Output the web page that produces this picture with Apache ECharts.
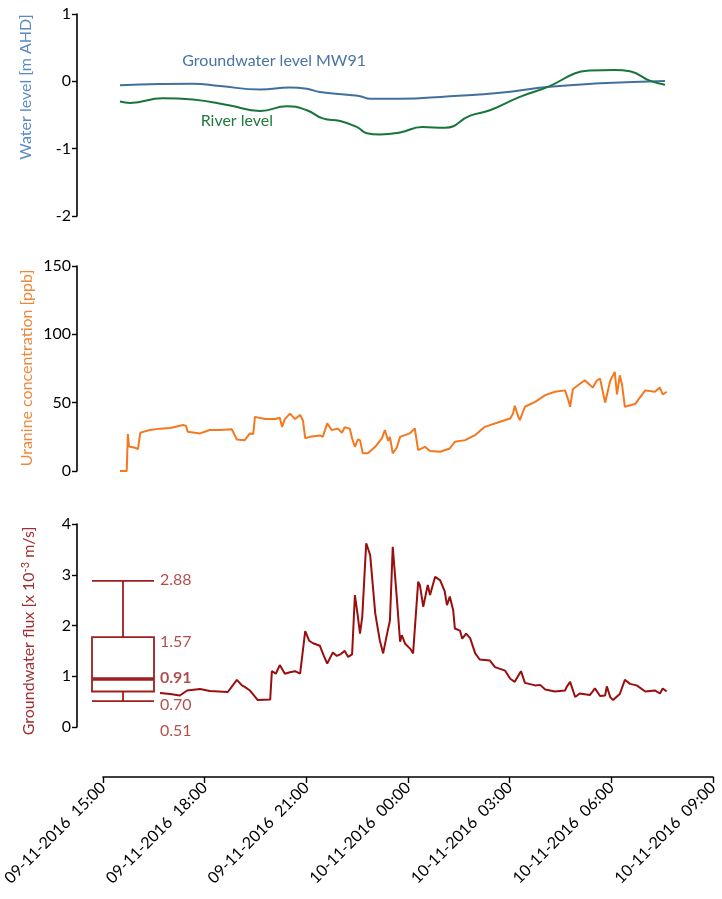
<!DOCTYPE html>
<html><head><meta charset="utf-8">
<script src="https://cdn.jsdelivr.net/npm/echarts@6/dist/echarts.min.js"></script>
<style>html,body{margin:0;padding:0;background:#fff}#c{width:722px;height:899px}</style>
</head><body><div id="c"></div>
<script>
// ---- data (times HH:MM; 15:00-23:59 on 09-11-2016, 00:00-14:59 on 10-11-2016) ----
const gwTimes = ['15:30','16:41','17:39','18:27','19:38','20:31','21:01','21:24','22:12','22:35','22:53','23:46','01:14','02:43','04:11','05:40','07:35'];
const gwLevel = [-0.06,-0.04,-0.035,-0.07,-0.12,-0.09,-0.11,-0.16,-0.20,-0.22,-0.26,-0.26,-0.22,-0.17,-0.08,-0.03,0.005];

const rvTimes = ['15:30','15:48','16:46','17:39','18:45','19:38','20:26','21:01','21:29','22:00','22:30','22:47','23:10','23:46','00:25','01:05','01:50','02:25','03:18','04:11','04:56','05:22','06:06','06:33','07:08','07:35'];
const rvLevel = [-0.30,-0.32,-0.25,-0.27,-0.36,-0.44,-0.37,-0.43,-0.55,-0.59,-0.68,-0.77,-0.79,-0.76,-0.68,-0.69,-0.51,-0.43,-0.23,-0.07,0.12,0.16,0.17,0.15,0.01,-0.05];

const urTimes = ['15:30','15:42','15:44','15:46','15:57','16:02','16:06','16:14','16:23','16:41','16:59','17:22','17:27','17:30','17:52','18:09','18:27','18:48','18:57','19:11','19:20','19:26','19:29','19:47','20:05','20:13','20:17','20:22','20:31','20:40','20:49','20:54','20:58','21:06','21:24','21:29','21:37','21:45','21:56','22:03','22:08','22:17','22:21','22:26','22:31','22:35','22:40','22:49','23:02','23:14','23:19','23:25','23:28','23:33','23:40','23:46','00:03','00:12','00:18','00:30','00:39','00:57','01:14','01:23','01:41','01:59','02:16','02:43','03:01','03:06','03:09','03:15','03:18','03:27','03:45','04:03','04:20','04:38','04:43','04:47','04:52','05:13','05:22','05:27','05:34','05:40','05:49','05:58','06:06','06:10','06:15','06:19','06:24','06:42','07:00','07:17','07:26','07:31','07:38'];
const urConc = [0,0,27,18,17,16,28,29,30,31,31.5,33.6,33,28.7,27.5,30,30,30.5,23,22.5,27.5,27,39.6,38,38,39,32.3,38,42,38,41,37,24,25,26,25,34.8,30,31,28,32,31,24,17.7,23,22.6,12.9,13,17.7,24,30,22,25,12.9,17,25,27.5,31.2,15.3,17.7,14.6,14.1,16.5,21.4,22.6,26.3,32.3,36,38.4,42,47.7,40,37.2,47,50.6,55.5,58,59,53,47,60,66.4,63,61,66,67.7,50,66,72.5,56,70,63,47,49,59,58,61,56,58];

const fxTimes = ['16:41','16:59','17:16','17:29','17:52','18:09','18:41','18:57','19:06','19:11','19:20','19:34','19:56','19:57','19:59','20:06','20:13','20:22','20:31','20:40','20:49','20:58','21:05','21:12','21:24','21:31','21:37','21:47','21:54','22:00','22:08','22:14','22:21','22:26','22:31','22:35','22:39','22:46','22:53','23:02','23:10','23:16','23:23','23:28','23:33','23:40','23:46','23:49','23:55','00:04','00:09','00:18','00:21','00:27','00:35','00:39','00:48','00:57','01:05','01:09','01:14','01:20','01:23','01:32','01:36','01:43','01:50','01:59','02:07','02:25','02:34','02:52','03:01','03:09','03:20','03:27','03:45','03:54','04:03','04:20','04:38','04:41','04:47','04:56','05:04','05:22','05:31','05:40','05:49','05:52','05:58','06:03','06:15','06:24','06:33','06:45','07:00','07:17','07:26','07:31','07:38'];
const fxFlux = [0.67,0.65,0.62,0.72,0.75,0.71,0.69,0.93,0.82,0.79,0.72,0.53,0.54,0.55,1.10,1.05,1.22,1.05,1.08,1.10,1.05,1.89,1.70,1.65,1.60,1.40,1.25,1.47,1.40,1.43,1.50,1.38,1.43,2.60,2.20,1.84,2.17,3.62,3.39,2.24,1.71,1.45,1.84,2.10,3.55,2.57,1.68,1.81,1.64,1.54,1.45,2.86,2.80,2.37,2.80,2.60,2.96,2.89,2.67,2.40,2.57,2.30,1.94,1.90,1.74,1.84,1.75,1.45,1.33,1.31,1.18,1.11,0.95,0.89,1.10,0.87,0.82,0.83,0.74,0.70,0.72,0.79,0.89,0.59,0.66,0.63,0.76,0.61,0.62,0.80,0.59,0.53,0.65,0.93,0.85,0.82,0.70,0.72,0.66,0.76,0.70];

// box plot of flux: [min, Q1, median, Q3, max] as drawn, and their printed labels
const boxStats = [0.51, 0.70, 0.95, 1.77, 2.88];
const boxLabelText = ['2.88', '1.57', '0.91', '0.70', '0.51'];

// ---- helpers ----
function toTs(hm) {
  const p = hm.split(':').map(Number);
  const day = p[0] >= 15 ? 9 : 10;
  return new Date(2016, 10, day, p[0], p[1]).getTime();
}
function pairs(times, vals) { return times.map((t, i) => [toTs(t), vals[i]]); }
function pad(n) { return (n < 10 ? '0' : '') + n; }
function fmt(v) {
  const d = new Date(v);
  return pad(d.getDate()) + '-' + pad(d.getMonth() + 1) + '-' + d.getFullYear() + '  ' + pad(d.getHours()) + ':' + pad(d.getMinutes());
}

const FONT = 'Lato';
const FS = 16;
const xMin = new Date(2016, 10, 9, 15, 0).getTime();
const xMax = new Date(2016, 10, 10, 9, 0).getTime();
const H3 = 3 * 3600 * 1000;

const C_BLUE = '#41709f', C_GREEN = '#17753a', C_ORANGE = '#f47820', C_RED = '#990e0e', C_BOX = '#9e1f1f';

function yAxis(gi, min, max, interval) {
  return {
    gridIndex: gi, type: 'value', min: min, max: max, interval: interval, offset: 26, position: 'left',
    axisLine: { show: true, lineStyle: { color: '#000', width: 1.6 } },
    axisTick: { show: true, length: 5, lineStyle: { color: '#000', width: 1.4 } },
    axisLabel: { color: '#000', fontSize: FS, fontFamily: FONT, margin: 6 },
    splitLine: { show: false }
  };
}
function xAxis(gi, show) {
  return {
    gridIndex: gi, type: 'value', min: xMin, max: xMax, interval: H3, show: show, offset: show ? 50 : 0,
    axisLine: { show: true, onZero: false, lineStyle: { color: '#000', width: 1.6 } },
    axisTick: { show: true, length: 6, lineStyle: { color: '#000', width: 1.4 } },
    axisLabel: { color: '#000', fontSize: FS, fontFamily: FONT, rotate: 45, margin: 8, formatter: fmt, showMaxLabel: true, showMinLabel: true },
    splitLine: { show: false }
  };
}
const gridBase = { left: 103, right: 9, containLabel: false, outerBoundsMode: 'none' };

const option = {
  animation: false,
  backgroundColor: '#fff',
  grid: [
    Object.assign({}, gridBase, { top: 14, height: 202 }),
    Object.assign({}, gridBase, { top: 266, height: 205 }),
    Object.assign({}, gridBase, { top: 524, height: 203 }),
    { left: 92, width: 62, top: 524, height: 203, containLabel: false, outerBoundsMode: 'none' }
  ],
  xAxis: [
    xAxis(0, false), xAxis(1, false), xAxis(2, true),
    { gridIndex: 3, type: 'category', data: ['flux'], show: false, boundaryGap: true }
  ],
  yAxis: [
    yAxis(0, -2, 1, 1), yAxis(1, 0, 150, 50), yAxis(2, 0, 4, 1),
    { gridIndex: 3, type: 'value', min: 0, max: 4, show: false }
  ],
  graphic: [
    { type: 'text', x: 26, y: 87, rotation: Math.PI / 2,
      style: { text: 'Water level [m AHD]', fill: '#5a8ac6', fontSize: FS, fontFamily: FONT, align: 'center', verticalAlign: 'middle' } },
    { type: 'text', x: 27, y: 368, rotation: Math.PI / 2,
      style: { text: 'Uranine concentration [ppb]', fill: '#f0883c', fontSize: FS, fontFamily: FONT, align: 'center', verticalAlign: 'middle' } },
    { type: 'text', x: 29, y: 631, rotation: Math.PI / 2,
      style: { text: '{a|Groundwater flux [x 10}{s|-3}{a| m/s]}', fill: '#a03030', align: 'center', verticalAlign: 'middle',
        rich: { a: { fontSize: FS, fontFamily: FONT, fill: '#a03030' }, s: { fontSize: 11, fontFamily: FONT, fill: '#a03030', verticalAlign: 'top', padding: [0, 0, 8, 0] } } } }
  ],
  series: [
    { type: 'line', name: 'Groundwater level MW91', xAxisIndex: 0, yAxisIndex: 0, data: pairs(gwTimes, gwLevel),
      smooth: true, showSymbol: false, lineStyle: { color: C_BLUE, width: 2 }, itemStyle: { color: C_BLUE },
      markPoint: { symbol: 'circle', symbolSize: 0, silent: true,
        label: { show: true, position: [0, 0], align: 'center', verticalAlign: 'middle', color: '#4a73a3', fontSize: FS, fontFamily: FONT, formatter: 'Groundwater level MW91' },
        data: [{ coord: [toTs('20:03'), 0.31] }] } },
    { type: 'line', name: 'River level', xAxisIndex: 0, yAxisIndex: 0, data: pairs(rvTimes, rvLevel),
      smooth: true, showSymbol: false, lineStyle: { color: C_GREEN, width: 2 }, itemStyle: { color: C_GREEN },
      markPoint: { symbol: 'circle', symbolSize: 0, silent: true,
        label: { show: true, position: [0, 0], align: 'center', verticalAlign: 'middle', color: '#1f7a3e', fontSize: FS, fontFamily: FONT, formatter: 'River level' },
        data: [{ coord: [toTs('18:57'), -0.59] }] } },
    { type: 'line', name: 'Uranine', xAxisIndex: 1, yAxisIndex: 1, data: pairs(urTimes, urConc),
      showSymbol: false, lineStyle: { color: C_ORANGE, width: 2 }, itemStyle: { color: C_ORANGE } },
    { type: 'line', name: 'Flux', xAxisIndex: 2, yAxisIndex: 2, data: pairs(fxTimes, fxFlux),
      showSymbol: false, lineStyle: { color: C_RED, width: 2 }, itemStyle: { color: C_RED } },
    { type: 'boxplot', xAxisIndex: 3, yAxisIndex: 3, data: [boxStats], boxWidth: ['100%', '100%'],
      itemStyle: { color: 'rgba(0,0,0,0)', borderColor: C_BOX, borderWidth: 1.8 },
      markLine: { silent: true, symbol: 'none', label: { show: false },
        lineStyle: { color: C_BOX, width: 3.5, type: 'solid' }, data: [{ yAxis: boxStats[2] }] } },
    { type: 'scatter', xAxisIndex: 3, yAxisIndex: 3, symbolSize: 0, clip: false, silent: true,
      data: [
        { value: [0, 2.90], label: { formatter: boxLabelText[0] } },
        { value: [0, 1.67], label: { formatter: boxLabelText[1] } },
        { value: [0, 0.96], label: { formatter: boxLabelText[2], fontWeight: 'bold' } },
        { value: [0, 0.43], label: { formatter: boxLabelText[3] } },
        { value: [0, -0.07], label: { formatter: boxLabelText[4] } }
      ],
      label: { show: true, position: [37, 0], align: 'left', verticalAlign: 'middle', color: C_BOX, fontSize: FS, fontFamily: FONT } }
  ]
};
const chart = echarts.init(document.getElementById('c'), null, { renderer: 'canvas' });
chart.setOption(option);
</script>
</body></html>
